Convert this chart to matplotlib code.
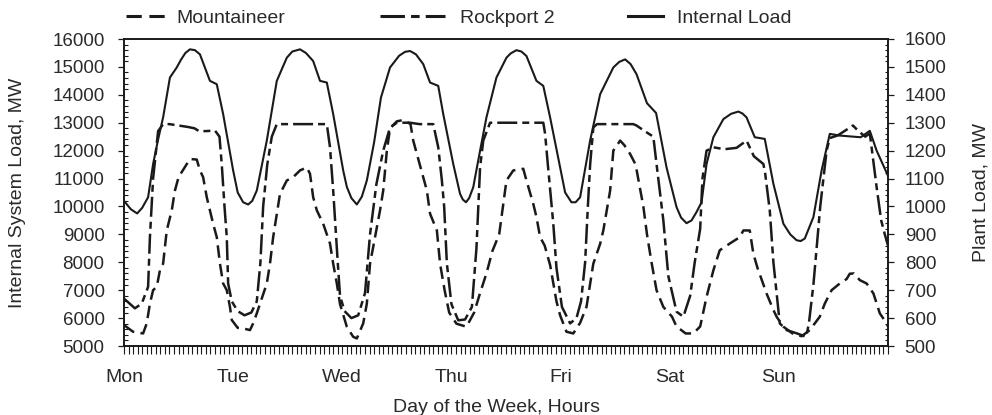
import matplotlib
matplotlib.use("Agg")
import matplotlib.pyplot as plt
from matplotlib.lines import Line2D
from matplotlib.ticker import MultipleLocator, FixedLocator
import numpy as np

plt.rcParams['font.family'] = ['Liberation Sans', 'DejaVu Sans']

# Day-of-week tick labels (one major tick every 24 h)
day_names = ['Mon', 'Tue', 'Wed', 'Thu', 'Fri', 'Sat', 'Sun']
day_start_hr = [0, 24, 48, 72, 96, 120, 144]

# Internal system load, MW (left axis)
load_hr = [0, 1.5, 2.9, 4, 5.3, 6.4, 7.5, 8.6, 10.1, 11.6, 12.5, 13.5, 14.5, 15.6, 16.7,
           18.2, 18.9, 20.4, 21.8, 24, 25, 26.2, 27.3, 28.2, 29.2, 31.4, 33.6, 35.8, 37,
           38.7, 40, 41.6, 43.1, 44.6, 46, 48.2, 49, 50, 51.2, 52.3, 53.4, 55, 56.5,
           58.5, 60.5, 61.8, 62.9, 64.2, 65.8, 67.3, 69.1, 70.2, 72.4, 73.9, 74.5, 75.2,
           75.9, 76.8, 78.3, 79.7, 81.9, 84.1, 85, 86.3, 87.4, 88.5, 90.7, 92.2, 93.7,
           95.9, 97, 98.4, 99.3, 100.3, 102.5, 104.7, 107.6, 108.9, 110.2, 111.4, 112.7,
           115, 117, 119.3, 121.5, 122.5, 123.7, 124.8, 125.9, 127, 128.1, 129.6, 131.8,
           133.5, 135.1, 136, 136.9, 138.7, 140.9, 142.8, 145, 146.5, 147.9, 148.8,
           149.7, 151.6, 153.4, 155.2, 157.4, 160.4, 162, 164, 165.5, 168]
load_mw = [10200, 9900, 9750, 9950, 10330, 11520, 12400, 13190, 14620, 14980, 15250,
           15500, 15630, 15600, 15450, 14800, 14500, 14380, 13310, 11290, 10500, 10150,
           10070, 10200, 10570, 12360, 14500, 15330, 15550, 15630, 15500, 15210, 14500,
           14440, 13310, 11290, 10700, 10300, 10070, 10350, 10930, 12300, 13900, 14980,
           15400, 15540, 15570, 15450, 15100, 14440, 14320, 13310, 11520, 10450, 10250,
           10150, 10300, 10690, 12000, 13190, 14620, 15330, 15480, 15600, 15550, 15390,
           14500, 14320, 13190, 11400, 10500, 10150, 10150, 10330, 12360, 14020, 14980,
           15180, 15270, 15100, 14740, 13700, 13350, 11400, 9975, 9600, 9400, 9500, 9800,
           10150, 11520, 12480, 13130, 13320, 13400, 13330, 13190, 12480, 12420, 10810,
           9380, 9000, 8790, 8760, 8850, 9620, 11290, 12600, 12540, 12500, 12480, 12710,
           12000, 11100]

# Rockport 2 plant load, MW (right axis)
rock_hr = [0, 2.4, 3.9, 5.3, 5.7, 6.4, 7.5, 8.6, 10, 12, 14, 15.5, 16.5, 18, 20, 21,
           21.5, 22.1, 22.6, 22.9, 23.7, 25, 26.5, 28, 29.2, 30, 30.6, 31.5, 32.5, 33.6,
           38, 44.6, 45.3, 46, 47, 47.5, 48.5, 50, 51.5, 53, 54.1, 55.5, 57, 58.5, 60,
           62.9, 65, 68, 69.1, 69.9, 70.4, 71, 72, 73.5, 75, 76.5, 77.5, 78.3, 79, 80.5,
           92.2, 92.6, 93.2, 94.4, 95.1, 96.3, 98.1, 99.5, 100.5, 101.4, 102, 102.5,
           103.2, 104, 112, 112.7, 114.5, 116.4, 117.1, 118.6, 119.7, 121.5, 123, 124.5,
           125.5, 126.7, 127.2, 128.1, 129.6, 132, 134.7, 136.9, 138.5, 140.6, 141, 142,
           142.8, 144.2, 145.7, 148, 150, 150.6, 151.6, 152.3, 153.1, 154.5, 155.2, 157,
           160.3, 161.5, 163, 164, 165.5, 166.5, 167.3, 168]
rock_mw = [670, 635, 652, 712, 890, 1100, 1270, 1295, 1295, 1290, 1285, 1280, 1270,
           1270, 1272, 1250, 1150, 1000, 890, 724, 660, 625, 610, 620, 660, 800, 1000,
           1150, 1250, 1295, 1295, 1295, 1212, 1057, 800, 680, 625, 600, 610, 690, 900,
           1080, 1200, 1283, 1300, 1300, 1295, 1295, 1212, 1093, 1000, 795, 650, 592,
           595, 640, 850, 1140, 1236, 1300, 1300, 1260, 1150, 938, 780, 640, 581, 600,
           660, 800, 1000, 1150, 1283, 1295, 1295, 1290, 1270, 1250, 1152, 950, 750,
           623, 605, 680, 800, 920, 1100, 1200, 1212, 1205, 1210, 1236, 1180, 1152,
           1117, 986, 800, 581, 557, 545, 533, 580, 720, 850, 1000, 1200, 1245, 1255,
           1290, 1270, 1250, 1262, 1069, 950, 900, 860]

# Mountaineer plant load, MW (right axis)
mount_hr = [0, 2, 4.2, 5, 5.7, 6.4, 7.2, 7.9, 8.6, 9.4, 10.5, 11.2, 12, 13.8, 14.5, 16,
            16.7, 17.4, 18.2, 18.9, 19.6, 20.4, 21.1, 21.8, 22.6, 23.3, 23.7, 25, 26.2,
            27.7, 28.4, 29.2, 31.4, 32.1, 32.8, 34.3, 35.8, 37.2, 38.7, 40.2, 40.9, 41.6,
            42.4, 43.1, 43.8, 45.3, 46, 46.8, 47.5, 49, 50.4, 51.2, 52.6, 53.4, 54.1,
            54.8, 56.3, 57, 57.8, 58.5, 60, 61.5, 63, 63.6, 65.8, 66.6, 67.3, 68.8, 69.5,
            70.5, 71.5, 73.1, 75.3, 77, 78.3, 79.7, 81, 82.5, 84.1, 85.6, 87.8, 88.5, 90,
            90.7, 91.5, 92.5, 93.7, 95.1, 95.9, 97.3, 98.8, 100.3, 101.7, 103.2, 104.7,
            105.4, 106.9, 107.6, 109.1, 110, 111.3, 112.5, 114.2, 115, 116, 117.1, 118.6,
            120.5, 121.5, 123.5, 125.2, 126.7, 128.1, 129.6, 131, 133.2, 135.4, 136.2,
            137.6, 138.4, 139.3, 141.3, 142.8, 143.5, 145, 147, 149, 150.8, 153, 154.1,
            155.6, 157.4, 158.9, 159.6, 160.5, 161.8, 163.3, 164.8, 166.2, 167.7, 168]
mount_mw = [575, 551, 545, 581, 652, 700, 712, 771, 795, 914, 986, 1057, 1105, 1152,
            1170, 1168, 1129, 1105, 1033, 986, 938, 890, 795, 724, 700, 640, 593, 565,
            563, 557, 581, 617, 724, 795, 890, 1045, 1093, 1105, 1129, 1140, 1117, 1033,
            986, 962, 938, 867, 795, 724, 650, 569, 533, 527, 581, 652, 795, 855, 986,
            1057, 1200, 1280, 1305, 1310, 1295, 1236, 1105, 1057, 974, 914, 795, 700,
            620, 580, 569, 620, 690, 760, 840, 900, 1093, 1129, 1135, 1093, 1009, 962,
            890, 860, 790, 660, 610, 551, 545, 583, 640, 795, 866, 914, 1057, 1200, 1236,
            1220, 1188, 1150, 1000, 900, 800, 700, 640, 605, 570, 545, 545, 570, 676,
            771, 843, 867, 890, 914, 914, 830, 780, 688, 629, 605, 569, 545, 535, 557,
            605, 652, 700, 724, 740, 759, 760, 736, 724, 688, 617, 581, 570]

ink = '#1a1a1a'
txt = '#2a2a2a'
mount_dash = (5, 2.5)
rock_dash = (8, 2, 2.8, 2)

fig = plt.figure(figsize=(9.92, 4.15), dpi=100)
ax = fig.add_axes([124 / 992, 1 - 346 / 415, 764 / 992, 307 / 415])
ax2 = ax.twinx()

ax.plot(load_hr, load_mw, color=ink, lw=1.5, solid_joinstyle='round')
ax2.plot(mount_hr, mount_mw, color=ink, lw=1.8, dashes=mount_dash)
ax2.plot(rock_hr, rock_mw, color=ink, lw=1.8, dashes=rock_dash)

ax.set_xlim(0, 168)
ax.set_ylim(5000, 16000)
ax2.set_ylim(500, 1600)

# x axis: days with hourly ticks
ax.xaxis.set_major_locator(FixedLocator(day_start_hr))
ax.set_xticklabels(day_names)
ax.xaxis.set_minor_locator(MultipleLocator(1))
ax.tick_params(axis='x', which='both', direction='out', length=6, width=0.8,
               color=ink, pad=10.5, labelsize=14, labelcolor=txt)

# left y axis
ax.yaxis.set_major_locator(MultipleLocator(1000))
ax.yaxis.set_minor_locator(MultipleLocator(200))
ax.tick_params(axis='y', which='major', direction='out', length=4, width=0.9,
               color=ink, pad=10, labelsize=13.5, labelcolor=txt)
ax.tick_params(axis='y', which='minor', direction='in', length=3, width=0.8, color=ink)

# right y axis
ax2.yaxis.set_major_locator(MultipleLocator(100))
ax2.yaxis.set_minor_locator(MultipleLocator(20))
ax2.tick_params(axis='y', which='major', direction='out', length=4.5, width=0.9,
                color=ink, pad=7.5, labelsize=13.5, labelcolor=txt)
ax2.tick_params(axis='y', which='minor', direction='in', length=2.5, width=0.8, color=ink)

for a in (ax, ax2):
    for s in a.spines.values():
        s.set_linewidth(1.2)
        s.set_color(ink)

ax.set_ylabel('Internal System Load, MW', fontsize=14, color=txt)
ax.yaxis.set_label_coords(-0.128, 0.5)
ax2.set_ylabel('Plant Load, MW', fontsize=14, color=txt)
ax2.yaxis.set_label_coords(1.110, 0.5)
ax.set_xlabel('Day of the Week, Hours', fontsize=14, color=txt)
ax.xaxis.set_label_coords(0.488, -0.172)

# legend row above the plot, three entries with their own sample lengths
legend_items = [
    ('Mountaineer', dict(dashes=mount_dash), 126, 2.0, 0.6),
    ('Rockport 2', dict(dashes=rock_dash), 380, 3.35, 0.75),
    ('Internal Load', dict(), 628, 1.8, 0.7),
]
for label, style, x0, hl, tp in legend_items:
    h = Line2D([], [], color=ink, lw=2.2, **style)
    fig.legend(handles=[h], labels=[label], loc='center left',
               bbox_to_anchor=(x0 / 992, 1 - 18 / 415), frameon=False,
               borderpad=0, borderaxespad=0, handlelength=hl, handletextpad=tp,
               fontsize=14, labelcolor=txt)

fig.savefig('out.png', dpi=100)
